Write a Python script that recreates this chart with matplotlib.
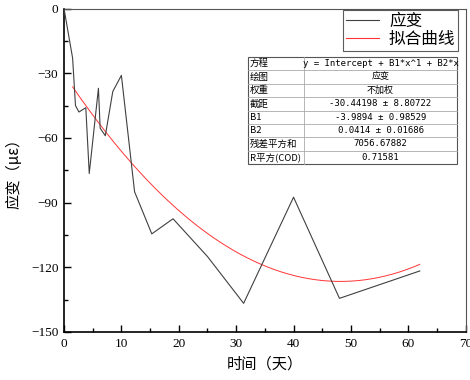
import numpy as np
import matplotlib
matplotlib.use("Agg")
import matplotlib.pyplot as plt
from matplotlib.lines import Line2D
from matplotlib.ticker import MultipleLocator

plt.rcParams['font.family'] = ['Noto Sans CJK SC', 'DejaVu Sans']

# data
time_days = [0, 1.5, 2, 2.6, 3.8, 4.4, 6.0, 6.3, 7.2, 8.5, 10, 12.3, 15.3, 19, 25, 31.3, 40, 48, 62]
strain = [0, -23, -45, -48, -46, -76.5, -37, -55.5, -59, -38.5, -31, -85, -104.5, -97.5, -115, -136.7, -87.5, -134.4, -121.7]

# fit parameters (from table)
intercept = -30.44198
b1 = -3.9894
b2 = 0.0414
fit_range = [1.5, 62]

table_rows = [
    ("方程", "y = Intercept + B1*x^1 + B2*x"),
    ("绘图", "应变"),
    ("权重", "不加权"),
    ("截距", "-30.44198 ± 8.80722"),
    ("B1", "-3.9894 ± 0.98529"),
    ("B2", "0.0414 ± 0.01686"),
    ("残差平方和", "7056.67882"),
    ("R平方(COD)", "0.71581"),
]

W, H = 470, 380
fig = plt.figure(figsize=(W / 100, H / 100), dpi=100)
ax = fig.add_axes([64 / W, (H - 332) / H, (465.7 - 64) / W, (332 - 8.5) / H])

ax.plot(time_days, strain, color='#404040', lw=0.8, zorder=3)
xf = np.linspace(fit_range[0], fit_range[1], 300)
yf = intercept + b1 * xf + b2 * xf ** 2
ax.plot(xf, yf, color='#ff3535', lw=0.7, zorder=2)

ax.set_xlim(0, 70)
ax.set_ylim(-150, 0)
ax.xaxis.set_major_locator(MultipleLocator(10))
ax.xaxis.set_minor_locator(MultipleLocator(5))
ax.yaxis.set_major_locator(MultipleLocator(30))
ax.yaxis.set_minor_locator(MultipleLocator(15))
ax.tick_params(which='both', direction='in', top=False, right=False, width=1.0)
ax.tick_params(which='major', length=5, labelsize=9.5, pad=4)
ax.tick_params(which='minor', length=3)
for lab in ax.get_xticklabels() + ax.get_yticklabels():
    lab.set_family(['Liberation Serif', 'DejaVu Serif'])
for s in ['left', 'bottom']:
    ax.spines[s].set_linewidth(1.2)
    ax.spines[s].set_color('black')
for s in ['top', 'right']:
    ax.spines[s].set_linewidth(0.8)
    ax.spines[s].set_color('#555555')

ax.set_xlabel("时间（天）", fontsize=11, labelpad=4)
ax.set_ylabel("应变（με）", fontsize=11, labelpad=6)

# legend
handles = [Line2D([], [], color='#404040', lw=0.8), Line2D([], [], color='#ff3535', lw=0.8)]
leg = fig.legend(handles, ["应变", "拟合曲线"], loc='upper right',
                 bbox_to_anchor=(458 / W, 1 - 10 / H), fontsize=12,
                 frameon=True, fancybox=False, edgecolor='#333333',
                 handlelength=2.0, handletextpad=0.6, borderpad=0.15,
                 labelspacing=0.1, borderaxespad=0)
leg.get_frame().set_linewidth(0.8)

# table
tl, tr, tt, tb, tc = 248, 457, 57, 164, 304
nrows = len(table_rows)
rh = (tb - tt) / nrows

def fx(px):
    return px / W

def fy(py):
    return 1 - py / H

fig.patches.append(plt.Rectangle((fx(tl), fy(tb)), fx(tr) - fx(tl), fy(tt) - fy(tb),
                                 transform=fig.transFigure, facecolor='white',
                                 edgecolor='#555555', lw=0.8, zorder=5))
for i in range(1, nrows):
    y = tt + i * rh
    fig.add_artist(Line2D([fx(tl), fx(tr)], [fy(y), fy(y)], color='#aaaaaa', lw=0.6, zorder=6))
fig.add_artist(Line2D([fx(tc), fx(tc)], [fy(tt), fy(tb)], color='#aaaaaa', lw=0.6, zorder=6))

for i, (k, v) in enumerate(table_rows):
    yc = tt + (i + 0.5) * rh
    fig.text(fx(tl + 2), fy(yc), k, fontsize=6.8, va='center', ha='left', zorder=7,
             family=['Noto Sans CJK SC', 'DejaVu Sans'])
    fam = ['DejaVu Sans Mono', 'Noto Sans CJK SC'] if i not in (1, 2) else ['Noto Sans CJK SC', 'DejaVu Sans']
    fig.text(fx((tc + tr) / 2), fy(yc), v, fontsize=6.5, va='center', ha='center', zorder=7,
             family=fam)

fig.savefig("out.png", dpi=100)
